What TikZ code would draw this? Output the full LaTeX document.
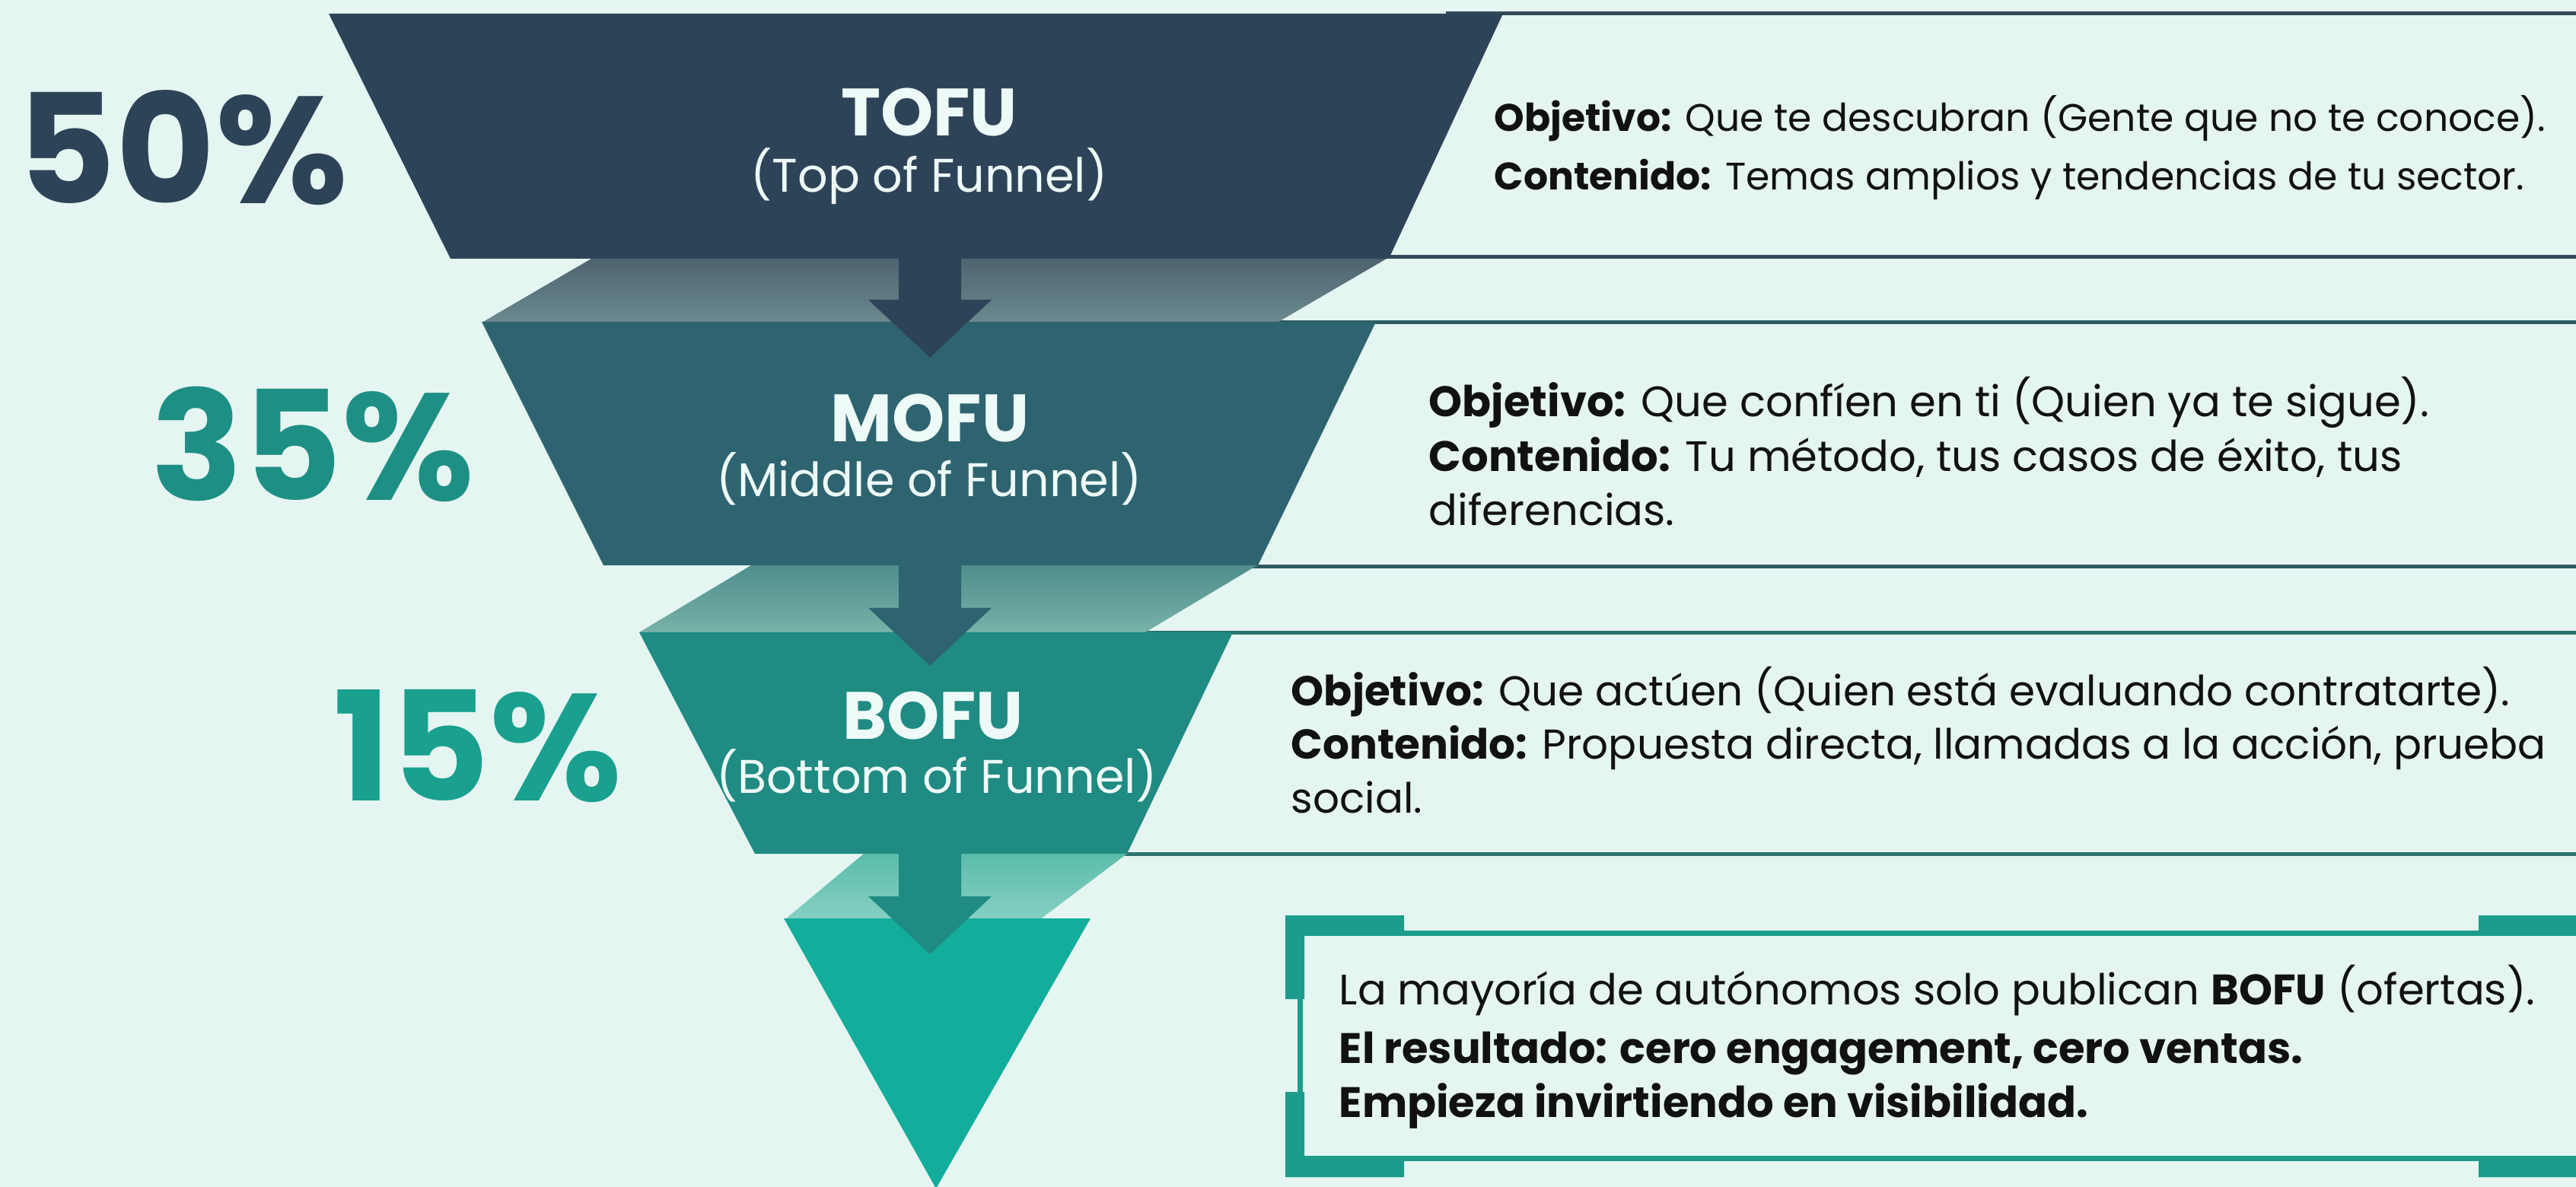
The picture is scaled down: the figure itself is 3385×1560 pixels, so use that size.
\documentclass[tikz,border=0pt]{standalone}
\usepackage{fontspec}
\setmainfont{Poppins}
\definecolor{bg}{HTML}{E5F5F1}
\definecolor{cA}{HTML}{2D4458}
\definecolor{cB}{HTML}{2E6470}
\definecolor{cC}{HTML}{1F8B82}
\definecolor{cD}{HTML}{12AD9B}
\definecolor{bandAt}{HTML}{4E6471}
\definecolor{bandAb}{HTML}{6B8A8E}
\definecolor{bandBt}{HTML}{4F8E8D}
\definecolor{bandBb}{HTML}{78B2A8}
\definecolor{bandCt}{HTML}{5BBCAA}
\definecolor{bandCb}{HTML}{86D0C2}
\definecolor{lineA}{HTML}{34495A}
\definecolor{lineB}{HTML}{2E5A63}
\definecolor{lineC}{HTML}{2C7470}
\definecolor{frameC}{HTML}{1B9C8C}
\definecolor{pctA}{HTML}{2D4458}
\definecolor{pctB}{HTML}{1E8F84}
\definecolor{pctC}{HTML}{19A08F}
\definecolor{ink}{HTML}{111111}
\definecolor{lbl}{HTML}{EEFAF7}
\newcommand\FunArrow[3]{%
  \fill[#1] ({#2-41},#3) -- ({#2+41},#3) -- ({#2+41},{#3+58}) -- ({#2+81},{#3+58})
    -- (#2,{#3+134}) -- ({#2-81},{#3+58}) -- ({#2-41},{#3+58}) -- cycle;}
\begin{document}
\begin{tikzpicture}[x=0.25pt,y=-0.25pt,
  boxline/.style={line width=1.25pt},
  pct/.style={anchor=base,inner sep=0,font=\fontsize{50}{56}\selectfont\bfseries},
  ttl/.style={anchor=base,inner sep=0,text=lbl,font=\fontsize{22}{26}\selectfont\bfseries},
  sub/.style={anchor=base,inner sep=0,text=lbl,font=\fontsize{15.5}{18}\selectfont},
  body/.style={anchor=base west,inner sep=0,text=ink,font=\fontsize{14}{17}\selectfont},
  bodyA/.style={anchor=base west,inner sep=0,text=ink,font=\fontsize{12.6}{15}\selectfont},
  bodyC/.style={anchor=base west,inner sep=0,text=ink,font=\fontsize{13.7}{16}\selectfont}]
\clip (0,0) rectangle (3385,1560);
\fill[bg] (0,0) rectangle (3385,1560);
% text box lines
\draw[boxline,lineA] (1900,18) -- (3385,18);
\draw[boxline,lineA] (1800,338) -- (3385,338);
\draw[boxline,lineB] (1660,424) -- (3385,424);
\draw[boxline,lineB] (1640,745) -- (3385,745);
\draw[boxline,lineC] (1490,832) -- (3385,832);
\draw[boxline,lineC] (1470,1122) -- (3385,1122);
% bands
\shade[top color=bandAt,bottom color=bandAb] (777,340) -- (1822,340) -- (1678,424) -- (633,424) -- cycle;
\shade[top color=bandBt,bottom color=bandBb] (987,743) -- (1652,743) -- (1505,831) -- (840,831) -- cycle;
\shade[top color=bandCt,bottom color=bandCb] (1135,1122) -- (1481,1122) -- (1367,1208) -- (1032,1208) -- cycle;
% funnel sections
\fill[cA] (432,18) -- (1975,18) -- (1825,340) -- (592,340) -- cycle;
\fill[cB] (633,423) -- (1808,423) -- (1653,743) -- (793,743) -- cycle;
\fill[cC] (840,831) -- (1620,831) -- (1481,1122) -- (992,1122) -- cycle;
\fill[cD] (1030,1207) -- (1433,1207) -- (1230,1562) -- cycle;
% arrows
\FunArrow{cA}{1222}{336}
\FunArrow{cB}{1222}{741}
\FunArrow{cC}{1222}{1120}
% final box frame
\draw[frameC,line width=1.75pt] (1708,1226) rectangle (3430,1522);
\fill[frameC] (1689,1203) -- (1845,1203) -- (1845,1229) -- (1714,1229) -- (1714,1313) -- (1689,1313) -- cycle;
\fill[frameC] (1689,1547) -- (1845,1547) -- (1845,1520) -- (1714,1520) -- (1714,1435) -- (1689,1435) -- cycle;
\fill[frameC] (3413,1203) -- (3257,1203) -- (3257,1229) -- (3388,1229) -- (3388,1313) -- (3413,1313) -- cycle;
\fill[frameC] (3413,1547) -- (3257,1547) -- (3257,1520) -- (3388,1520) -- (3388,1435) -- (3413,1435) -- cycle;
% percentages
\node[pct,text=pctA] (p50) at (240,268) {50\%};
\node[pct,text=pctB] (p35) at (411,658) {35\%};
\node[pct,text=pctC] (p15) at (628,1052) {15\%};
% funnel labels
\node[ttl] (tofu) at (1221,179) {TOFU};
\node[sub] (tofus) at (1221,253) {(Top of Funnel)};
\node[ttl] (mofu) at (1222,581) {MOFU};
\node[sub] (mofus) at (1221,653) {(Middle of Funnel)};
\node[ttl] (bofu) at (1226,972) {BOFU};
\node[sub] (bofus) at (1231,1043) {(Bottom of Funnel)};
% box texts
\node[bodyA] (ta1) at (1963,173) {\textbf{Objetivo:} Que te descubran (Gente que no te conoce).};
\node[bodyA] (ta2) at (1963,250) {\textbf{Contenido:} Temas amplios y tendencias de tu sector.};
\node[body] (tb1) at (1877,548) {\textbf{Objetivo:} Que confíen en ti (Quien ya te sigue).};
\node[body] (tb2) at (1877,620) {\textbf{Contenido:} Tu método, tus casos de éxito, tus};
\node[body] (tb3) at (1877,691) {diferencias.};
\node[bodyC] (tc1) at (1696,928) {\textbf{Objetivo:} Que actúen (Quien está evaluando contratarte).};
\node[bodyC] (tc2) at (1696,998) {\textbf{Contenido:} Propuesta directa, llamadas a la acción, prueba};
\node[bodyC] (tc3) at (1696,1068) {social.};
\node[body] (td1) at (1759,1320) {La mayoría de autónomos solo publican \textbf{BOFU} (ofertas).};
\node[body] (td2) at (1759,1397) {\textbf{El resultado: cero engagement, cero ventas.}};
\node[body] (td3) at (1759,1468) {\textbf{Empieza invirtiendo en visibilidad.}};
\end{tikzpicture}
\end{document}
